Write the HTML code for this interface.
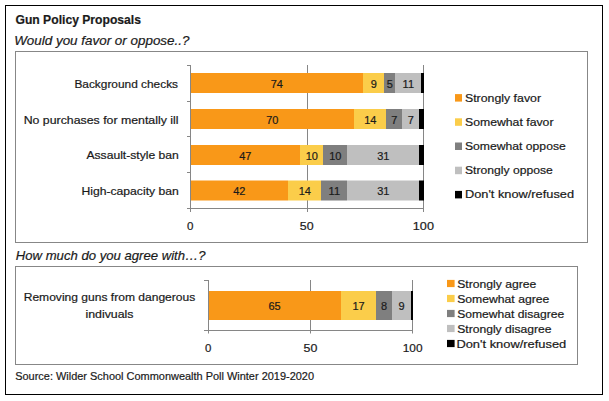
<!DOCTYPE html>
<html><head><meta charset="utf-8"><style>
html,body{margin:0;padding:0;background:#fff;}
svg{display:block;}
text{font-family:"Liberation Sans",sans-serif;}
</style></head><body>
<svg width="609" height="401" viewBox="0 0 609 401">
<rect x="0" y="0" width="609" height="401" fill="#fff"/>
<rect x="5.5" y="5.5" width="597" height="389" fill="none" stroke="#000" stroke-width="1"/>
<rect x="15.5" y="51.5" width="572" height="191" fill="none" stroke="#878787" stroke-width="1"/>
<rect x="15.5" y="266.5" width="562" height="98" fill="none" stroke="#878787" stroke-width="1"/>
<line x1="307.5" y1="65" x2="307.5" y2="212" stroke="#868686" stroke-width="1"/>
<line x1="423.5" y1="65" x2="423.5" y2="212" stroke="#868686" stroke-width="1"/>
<rect x="190" y="73" width="173" height="20" fill="#F99818"/>
<rect x="363" y="73" width="21" height="20" fill="#FBCD4A"/>
<rect x="384" y="73" width="11" height="20" fill="#7F7F7F"/>
<rect x="395" y="73" width="26" height="20" fill="#BFBFBF"/>
<rect x="421" y="73" width="3" height="20" fill="#000000"/>
<rect x="190" y="109" width="164" height="20" fill="#F99818"/>
<rect x="354" y="109" width="32" height="20" fill="#FBCD4A"/>
<rect x="386" y="109" width="16" height="20" fill="#7F7F7F"/>
<rect x="402" y="109" width="17" height="20" fill="#BFBFBF"/>
<rect x="419" y="109" width="5" height="20" fill="#000000"/>
<rect x="190" y="145" width="110" height="20" fill="#F99818"/>
<rect x="300" y="145" width="23" height="20" fill="#FBCD4A"/>
<rect x="323" y="145" width="24" height="20" fill="#7F7F7F"/>
<rect x="347" y="145" width="72" height="20" fill="#BFBFBF"/>
<rect x="419" y="145" width="5" height="20" fill="#000000"/>
<rect x="190" y="180.5" width="98" height="20" fill="#F99818"/>
<rect x="288" y="180.5" width="33" height="20" fill="#FBCD4A"/>
<rect x="321" y="180.5" width="26" height="20" fill="#7F7F7F"/>
<rect x="347" y="180.5" width="72" height="20" fill="#BFBFBF"/>
<rect x="419" y="180.5" width="5" height="20" fill="#000000"/>
<line x1="190.5" y1="65" x2="190.5" y2="212" stroke="#868686" stroke-width="1"/>
<line x1="187" y1="208.5" x2="424" y2="208.5" stroke="#868686" stroke-width="1"/>
<line x1="187" y1="65.5" x2="190" y2="65.5" stroke="#868686" stroke-width="1"/>
<line x1="187" y1="101.5" x2="190" y2="101.5" stroke="#868686" stroke-width="1"/>
<line x1="187" y1="136.5" x2="190" y2="136.5" stroke="#868686" stroke-width="1"/>
<line x1="187" y1="172.5" x2="190" y2="172.5" stroke="#868686" stroke-width="1"/>
<text x="276.80" y="88.22" font-size="11" text-anchor="middle" fill="#1a1a1a" stroke="#1a1a1a" stroke-width="0.2">74</text>
<text x="373.80" y="88.22" font-size="11" text-anchor="middle" fill="#1a1a1a" stroke="#1a1a1a" stroke-width="0.2">9</text>
<text x="389.80" y="88.22" font-size="11" text-anchor="middle" fill="#1a1a1a" stroke="#1a1a1a" stroke-width="0.2">5</text>
<text x="408.30" y="88.22" font-size="11" text-anchor="middle" fill="#1a1a1a" stroke="#1a1a1a" stroke-width="0.2">11</text>
<text x="272.30" y="123.97" font-size="11" text-anchor="middle" fill="#1a1a1a" stroke="#1a1a1a" stroke-width="0.2">70</text>
<text x="370.30" y="123.97" font-size="11" text-anchor="middle" fill="#1a1a1a" stroke="#1a1a1a" stroke-width="0.2">14</text>
<text x="394.30" y="123.97" font-size="11" text-anchor="middle" fill="#1a1a1a" stroke="#1a1a1a" stroke-width="0.2">7</text>
<text x="410.80" y="123.97" font-size="11" text-anchor="middle" fill="#1a1a1a" stroke="#1a1a1a" stroke-width="0.2">7</text>
<text x="245.30" y="159.72" font-size="11" text-anchor="middle" fill="#1a1a1a" stroke="#1a1a1a" stroke-width="0.2">47</text>
<text x="311.80" y="159.72" font-size="11" text-anchor="middle" fill="#1a1a1a" stroke="#1a1a1a" stroke-width="0.2">10</text>
<text x="335.30" y="159.72" font-size="11" text-anchor="middle" fill="#1a1a1a" stroke="#1a1a1a" stroke-width="0.2">10</text>
<text x="383.30" y="159.72" font-size="11" text-anchor="middle" fill="#1a1a1a" stroke="#1a1a1a" stroke-width="0.2">31</text>
<text x="239.30" y="195.47" font-size="11" text-anchor="middle" fill="#1a1a1a" stroke="#1a1a1a" stroke-width="0.2">42</text>
<text x="304.80" y="195.47" font-size="11" text-anchor="middle" fill="#1a1a1a" stroke="#1a1a1a" stroke-width="0.2">14</text>
<text x="334.30" y="195.47" font-size="11" text-anchor="middle" fill="#1a1a1a" stroke="#1a1a1a" stroke-width="0.2">11</text>
<text x="383.30" y="195.47" font-size="11" text-anchor="middle" fill="#1a1a1a" stroke="#1a1a1a" stroke-width="0.2">31</text>
<rect x="455" y="94.10" width="7" height="7.5" fill="#F99818"/>
<rect x="455" y="118.30" width="7" height="7.5" fill="#FBCD4A"/>
<rect x="455" y="142.50" width="7" height="7.5" fill="#7F7F7F"/>
<rect x="455" y="166.70" width="7" height="7.5" fill="#BFBFBF"/>
<rect x="455" y="190.90" width="7" height="7.5" fill="#000000"/>
<line x1="310.5" y1="280" x2="310.5" y2="333.5" stroke="#868686" stroke-width="1"/>
<line x1="412.5" y1="280" x2="412.5" y2="333.5" stroke="#868686" stroke-width="1"/>
<rect x="208" y="291" width="133" height="29" fill="#F99818"/>
<rect x="341" y="291" width="35" height="29" fill="#FBCD4A"/>
<rect x="376" y="291" width="16" height="29" fill="#7F7F7F"/>
<rect x="392" y="291" width="19" height="29" fill="#BFBFBF"/>
<rect x="411" y="291" width="2" height="29" fill="#000000"/>
<line x1="208.5" y1="280" x2="208.5" y2="333.5" stroke="#868686" stroke-width="1"/>
<line x1="204" y1="330.5" x2="413" y2="330.5" stroke="#868686" stroke-width="1"/>
<line x1="204" y1="280.5" x2="208" y2="280.5" stroke="#868686" stroke-width="1"/>
<text x="274.50" y="310.30" font-size="11" text-anchor="middle" fill="#1a1a1a" stroke="#1a1a1a" stroke-width="0.2">65</text>
<text x="358.50" y="310.30" font-size="11" text-anchor="middle" fill="#1a1a1a" stroke="#1a1a1a" stroke-width="0.2">17</text>
<text x="384.00" y="310.30" font-size="11" text-anchor="middle" fill="#1a1a1a" stroke="#1a1a1a" stroke-width="0.2">8</text>
<text x="401.50" y="310.30" font-size="11" text-anchor="middle" fill="#1a1a1a" stroke="#1a1a1a" stroke-width="0.2">9</text>
<rect x="447" y="279.90" width="7.6" height="7.2" fill="#F99818"/>
<rect x="447" y="294.90" width="7.6" height="7.2" fill="#FBCD4A"/>
<rect x="447" y="309.90" width="7.6" height="7.2" fill="#7F7F7F"/>
<rect x="447" y="324.90" width="7.6" height="7.2" fill="#BFBFBF"/>
<rect x="447" y="339.90" width="7.6" height="7.2" fill="#000000"/>
<text x="15.48" y="23.60" font-size="12.5" font-weight="bold" font-style="normal" textLength="125.52" lengthAdjust="spacingAndGlyphs" fill="#1a1a1a" stroke="#1a1a1a" stroke-width="0.2">Gun Policy Proposals</text>
<text x="14.16" y="44.70" font-size="13" font-weight="normal" font-style="italic" textLength="175.32" lengthAdjust="spacingAndGlyphs" fill="#1a1a1a" stroke="#1a1a1a" stroke-width="0.2">Would you favor or oppose..?</text>
<text x="15.74" y="259.60" font-size="13" font-weight="normal" font-style="italic" textLength="189.74" lengthAdjust="spacingAndGlyphs" fill="#1a1a1a" stroke="#1a1a1a" stroke-width="0.2">How much do you agree with…?</text>
<text x="15.22" y="379.60" font-size="11" font-weight="normal" font-style="normal" textLength="298.78" lengthAdjust="spacingAndGlyphs" fill="#1a1a1a" stroke="#1a1a1a" stroke-width="0.2">Source: Wilder School Commonwealth Poll Winter 2019-2020</text>
<text x="74.42" y="87.90" font-size="11" font-weight="normal" font-style="normal" textLength="103.62" lengthAdjust="spacingAndGlyphs" fill="#1a1a1a" stroke="#1a1a1a" stroke-width="0.2">Background checks</text>
<text x="23.70" y="123.50" font-size="11" font-weight="normal" font-style="normal" textLength="154.82" lengthAdjust="spacingAndGlyphs" fill="#1a1a1a" stroke="#1a1a1a" stroke-width="0.2">No purchases for mentally ill</text>
<text x="86.48" y="159.30" font-size="11" font-weight="normal" font-style="normal" textLength="92.32" lengthAdjust="spacingAndGlyphs" fill="#1a1a1a" stroke="#1a1a1a" stroke-width="0.2">Assault-style ban</text>
<text x="81.42" y="195.10" font-size="11" font-weight="normal" font-style="normal" textLength="97.38" lengthAdjust="spacingAndGlyphs" fill="#1a1a1a" stroke="#1a1a1a" stroke-width="0.2">High-capacity ban</text>
<text x="187.06" y="229.60" font-size="11" font-weight="normal" font-style="normal" textLength="6.44" lengthAdjust="spacingAndGlyphs" fill="#1a1a1a" stroke="#1a1a1a" stroke-width="0.2">0</text>
<text x="299.84" y="229.60" font-size="11" font-weight="normal" font-style="normal" textLength="13.80" lengthAdjust="spacingAndGlyphs" fill="#1a1a1a" stroke="#1a1a1a" stroke-width="0.2">50</text>
<text x="412.84" y="229.60" font-size="11" font-weight="normal" font-style="normal" textLength="21.10" lengthAdjust="spacingAndGlyphs" fill="#1a1a1a" stroke="#1a1a1a" stroke-width="0.2">100</text>
<text x="464.96" y="101.60" font-size="11" font-weight="normal" font-style="normal" textLength="76.06" lengthAdjust="spacingAndGlyphs" fill="#1a1a1a" stroke="#1a1a1a" stroke-width="0.2">Strongly favor</text>
<text x="464.96" y="125.80" font-size="11" font-weight="normal" font-style="normal" textLength="88.54" lengthAdjust="spacingAndGlyphs" fill="#1a1a1a" stroke="#1a1a1a" stroke-width="0.2">Somewhat favor</text>
<text x="464.96" y="150.00" font-size="11" font-weight="normal" font-style="normal" textLength="100.82" lengthAdjust="spacingAndGlyphs" fill="#1a1a1a" stroke="#1a1a1a" stroke-width="0.2">Somewhat oppose</text>
<text x="464.96" y="174.20" font-size="11" font-weight="normal" font-style="normal" textLength="87.84" lengthAdjust="spacingAndGlyphs" fill="#1a1a1a" stroke="#1a1a1a" stroke-width="0.2">Strongly oppose</text>
<text x="464.96" y="198.40" font-size="11" font-weight="normal" font-style="normal" textLength="109.08" lengthAdjust="spacingAndGlyphs" fill="#1a1a1a" stroke="#1a1a1a" stroke-width="0.2">Don't know/refused</text>
<text x="205.00" y="351.70" font-size="11" font-weight="normal" font-style="normal" textLength="6.36" lengthAdjust="spacingAndGlyphs" fill="#1a1a1a" stroke="#1a1a1a" stroke-width="0.2">0</text>
<text x="303.56" y="351.70" font-size="11" font-weight="normal" font-style="normal" textLength="13.80" lengthAdjust="spacingAndGlyphs" fill="#1a1a1a" stroke="#1a1a1a" stroke-width="0.2">50</text>
<text x="402.70" y="351.70" font-size="11" font-weight="normal" font-style="normal" textLength="19.80" lengthAdjust="spacingAndGlyphs" fill="#1a1a1a" stroke="#1a1a1a" stroke-width="0.2">100</text>
<text x="23.70" y="300.80" font-size="11" font-weight="normal" font-style="normal" textLength="171.58" lengthAdjust="spacingAndGlyphs" fill="#1a1a1a" stroke="#1a1a1a" stroke-width="0.2">Removing guns from dangerous</text>
<text x="85.44" y="317.70" font-size="11" font-weight="normal" font-style="normal" textLength="48.08" lengthAdjust="spacingAndGlyphs" fill="#1a1a1a" stroke="#1a1a1a" stroke-width="0.2">indivuals</text>
<text x="457.22" y="287.70" font-size="11" font-weight="normal" font-style="normal" textLength="79.08" lengthAdjust="spacingAndGlyphs" fill="#1a1a1a" stroke="#1a1a1a" stroke-width="0.2">Strongly agree</text>
<text x="457.22" y="302.70" font-size="11" font-weight="normal" font-style="normal" textLength="92.08" lengthAdjust="spacingAndGlyphs" fill="#1a1a1a" stroke="#1a1a1a" stroke-width="0.2">Somewhat agree</text>
<text x="457.22" y="317.70" font-size="11" font-weight="normal" font-style="normal" textLength="107.06" lengthAdjust="spacingAndGlyphs" fill="#1a1a1a" stroke="#1a1a1a" stroke-width="0.2">Somewhat disagree</text>
<text x="457.22" y="332.70" font-size="11" font-weight="normal" font-style="normal" textLength="94.32" lengthAdjust="spacingAndGlyphs" fill="#1a1a1a" stroke="#1a1a1a" stroke-width="0.2">Strongly disagree</text>
<text x="456.42" y="347.70" font-size="11" font-weight="normal" font-style="normal" textLength="109.86" lengthAdjust="spacingAndGlyphs" fill="#1a1a1a" stroke="#1a1a1a" stroke-width="0.2">Don't know/refused</text>
</svg>
</body></html>
